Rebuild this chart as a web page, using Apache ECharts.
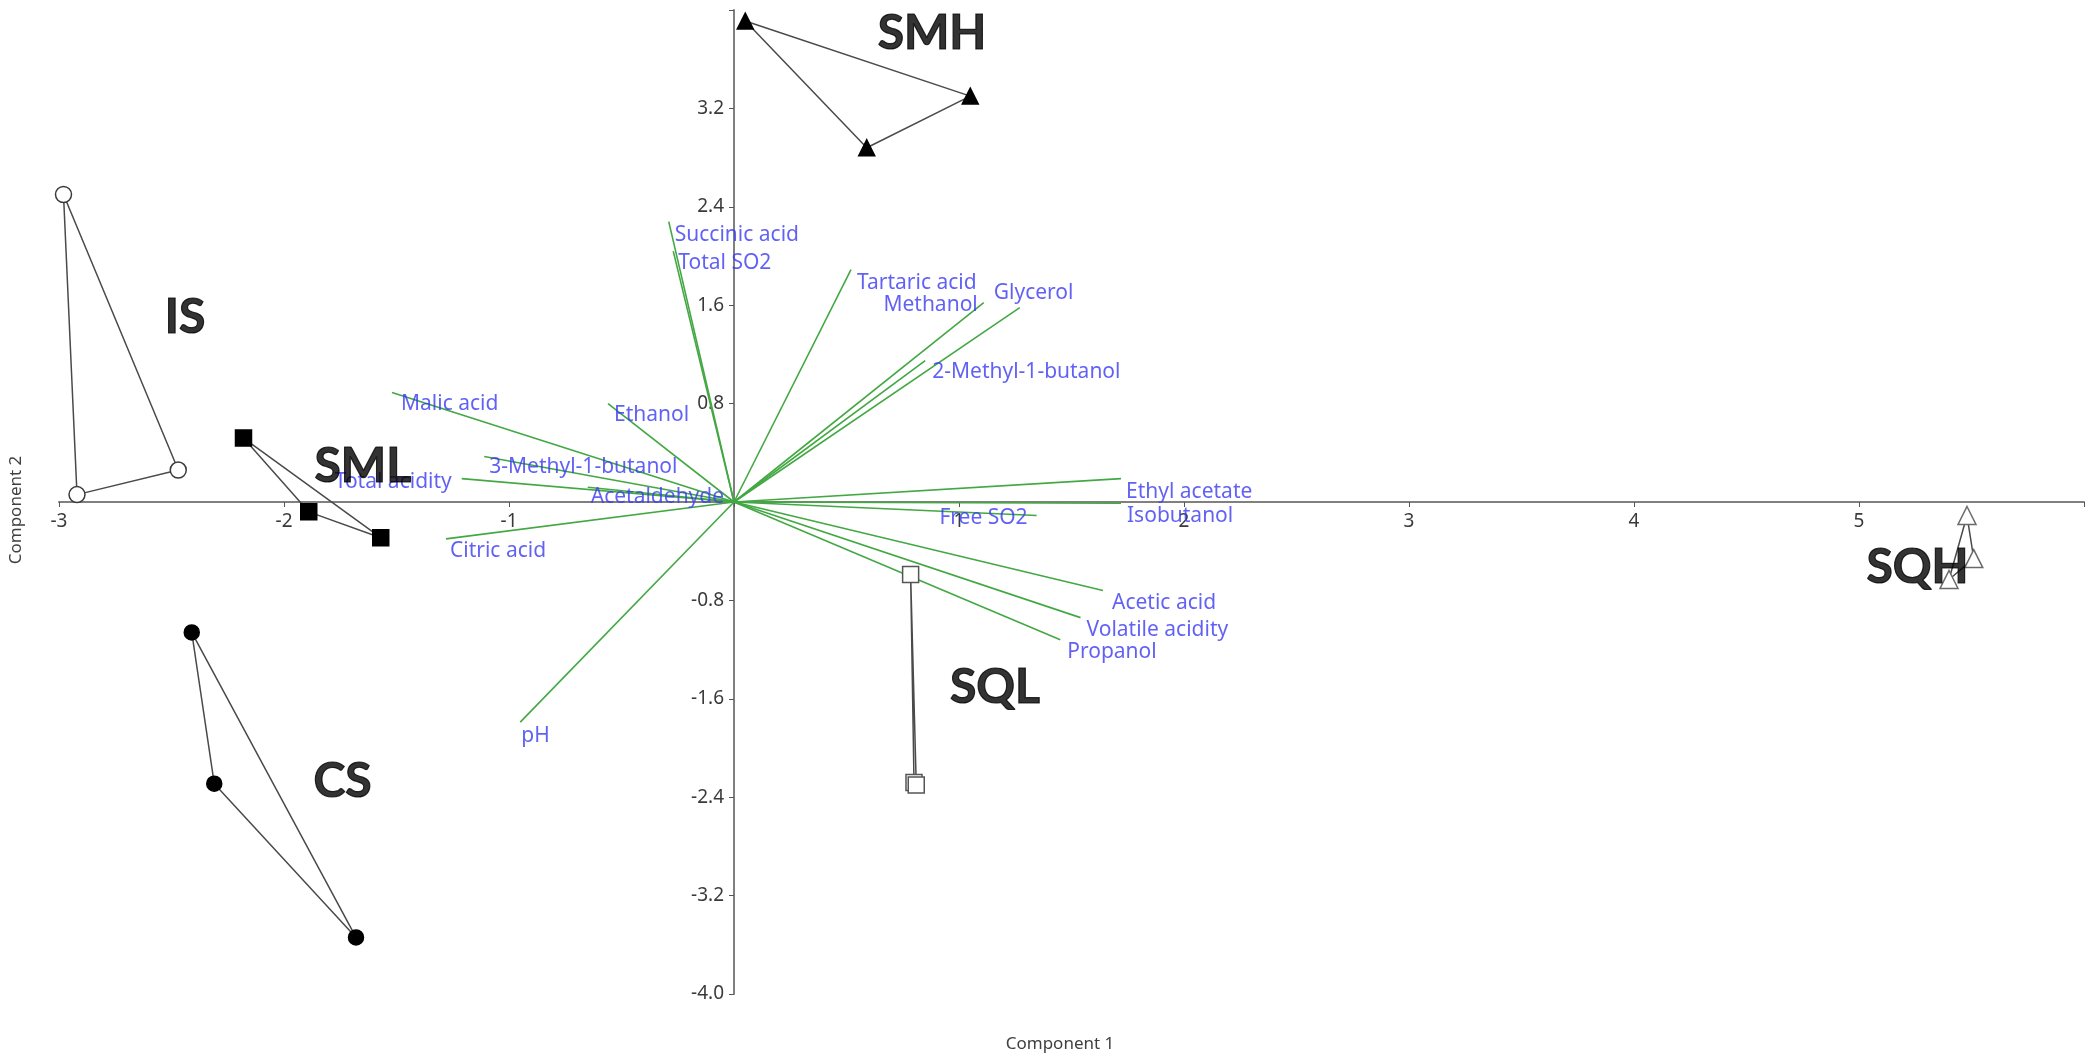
<!DOCTYPE html>
<html>
<head>
<meta charset="utf-8">
<script src="https://cdn.jsdelivr.net/npm/echarts/dist/echarts.min.js"></script>
<style>
html,body{margin:0;padding:0;background:#fff;}
#chart{width:2095px;height:1063px;}
</style>
</head>
<body>
<div id="chart"></div>
<script>
// ---- Data ----
const groupNames = ['IS', 'SML', 'CS', 'SMH', 'SQL', 'SQH'];
const isScores  = [[-2.98, 2.50], [-2.47, 0.26], [-2.92, 0.06]];
const smlScores = [[-2.18, 0.52], [-1.89, -0.08], [-1.57, -0.29]];
const csScores  = [[-2.41, -1.06], [-2.31, -2.29], [-1.68, -3.54]];
const smhScores = [[0.05, 3.91], [1.05, 3.30], [0.59, 2.88]];
const sqlScores = [[0.785, -0.59], [0.80, -2.28], [0.81, -2.30]];
const sqhScores = [[5.48, -0.11], [5.51, -0.46], [5.40, -0.63]];
const groupLabelX = [-2.44, -1.65, -1.74, 0.88, 1.16, 5.26];
const groupLabelY = [1.50, 0.29, -2.27, 3.81, -1.51, -0.53];

const variables = ['Succinic acid', 'Total SO2', 'Tartaric acid', 'Methanol', 'Glycerol',
  '2-Methyl-1-butanol', 'Malic acid', 'Ethanol', '3-Methyl-1-butanol', 'Total acidity',
  'Acetaldehyde', 'Citric acid', 'pH', 'Ethyl acetate', 'Isobutanol', 'Free SO2',
  'Acetic acid', 'Volatile acidity', 'Propanol'];
const loadX = [-0.29, -0.27, 0.52, 1.11, 1.27, 0.85, -1.52, -0.56, -1.11, -1.21,
  -0.65, -1.28, -0.95, 1.72, 1.72, 1.345, 1.64, 1.54, 1.45];
const loadY = [2.28, 2.04, 1.89, 1.62, 1.58, 1.15, 0.89, 0.80, 0.37, 0.19,
  0.12, -0.30, -1.79, 0.19, -0.01, -0.11, -0.72, -0.94, -1.12];

const xMin = -3, xMax = 6, xTickInterval = 1;
const yMin = -4, yMax = 4, yTickInterval = 0.8;

// ---- Label placement (pixel offsets from loading end point) ----
const labelPlacement = [
  [6, 13, 'left'], [5, 12, 'left'], [6, 13, 'left'], [-6, 2, 'right'], [-26, -15, 'left'],
  [7, 11, 'left'], [9, 11, 'left'], [6, 11, 'left'], [5, 11, 'left'], [-10, 3, 'right'],
  [3, 10, 'left'], [4, 12, 'left'], [1, 14, 'left'], [5, 13, 'left'], [6, 13, 'left'],
  [-9, 2, 'right'], [9, 12, 'left'], [6, 12, 'left'], [7, 12, 'left']
];

const groupScores = [isScores, smlScores, csScores, smhScores, sqlScores, sqhScores];
const groupSymbols = [
  {symbol: 'circle', size: 16, fill: '#ffffff', stroke: '#3a3a3a'},
  {symbol: 'rect', size: 16, fill: '#000000', stroke: '#000000'},
  {symbol: 'circle', size: 15, fill: '#000000', stroke: '#000000'},
  {symbol: 'triangle', size: 16, fill: '#000000', stroke: '#000000'},
  {symbol: 'rect', size: 16, fill: '#ffffff', stroke: '#555555'},
  {symbol: 'triangle', size: 18, fill: '#ffffff', stroke: '#6a6a6a'}
];

// ---- Layout ----
const W = 2095, H = 1063;
const gridL = 59, gridR = 11, gridT = 10, gridB = 69;
const plotW = W - gridL - gridR, plotH = H - gridT - gridB;
// pixel position of the zero lines, so the axes cross at the origin
const xZeroPx = gridL + (0 - xMin) / (xMax - xMin) * plotW;
const yZeroPx = gridT + (yMax - 0) / (yMax - yMin) * plotH;
const xAxisOffset = -((H - gridB) - yZeroPx);
const yAxisOffset = -(xZeroPx - gridL);

const chart = echarts.init(document.getElementById('chart'), null, {renderer: 'canvas'});

const tickFont = 'Noto Sans';
function fmtX(v) {
  const r = v / xTickInterval;
  if (Math.abs(v) < 1e-9 || Math.abs(r - Math.round(r)) > 1e-6 || v > xMax - 0.5) return '';
  return String(Math.round(v));
}
function fmtY(v) {
  const r = v / yTickInterval;
  if (Math.abs(v) < 1e-9 || Math.abs(r - Math.round(r)) > 1e-6 || v > yMax - 0.5) return '';
  return v.toFixed(1);
}

const series = [];

// Loading vectors
series.push({
  type: 'lines',
  coordinateSystem: 'cartesian2d',
  silent: true,
  z: 2,
  lineStyle: {color: '#43a843', width: 1.6, opacity: 1},
  data: variables.map((n, i) => ({coords: [[0, 0], [loadX[i], loadY[i]]]}))
});

// Loading labels
series.push({
  type: 'scatter',
  silent: true,
  z: 3,
  symbolSize: 1,
  itemStyle: {color: 'rgba(0,0,0,0)'},
  data: variables.map((n, i) => ({
    name: n,
    value: [loadX[i], loadY[i]],
    label: {
      show: true,
      position: 'inside',
      formatter: n,
      align: labelPlacement[i][2],
      verticalAlign: 'middle',
      offset: [labelPlacement[i][0], labelPlacement[i][1]],
      color: '#3a3af2',
      fontSize: 21,
      fontFamily: tickFont
    }
  }))
});

// Group polygons and markers
groupScores.forEach((pts, g) => {
  series.push({
    type: 'line',
    silent: true,
    z: 4,
    showSymbol: false,
    symbol: 'none',
    lineStyle: {color: '#4a4a4a', width: 1.5},
    data: pts.concat([pts[0]])
  });
  const s = groupSymbols[g];
  series.push({
    type: 'scatter',
    name: groupNames[g],
    silent: true,
    z: 5,
    symbol: s.symbol,
    symbolSize: s.size,
    itemStyle: {color: s.fill, borderColor: s.stroke, borderWidth: 1.5, opacity: 1},
    data: pts
  });
});

// Group labels
series.push({
  type: 'scatter',
  silent: true,
  z: 10,
  symbolSize: 1,
  itemStyle: {color: 'rgba(0,0,0,0)'},
  data: groupNames.map((n, i) => ({
    name: n,
    value: [groupLabelX[i], groupLabelY[i]],
    label: {
      show: true,
      position: 'inside',
      formatter: n,
      align: 'center',
      verticalAlign: 'middle',
      color: '#000000',
      textBorderColor: '#000000',
      textBorderWidth: 1.2,
      fontSize: 48,
      fontWeight: 'bold',
      fontFamily: 'Lato'
    }
  }))
});

chart.setOption({
  animation: false,
  backgroundColor: '#ffffff',
  grid: {left: gridL, right: gridR, top: gridT, bottom: gridB, containLabel: false, outerBoundsMode: 'none'},
  xAxis: {
    type: 'value',
    position: 'bottom',
    offset: xAxisOffset,
    min: xMin,
    max: xMax,
    interval: xTickInterval,
    axisLine: {show: true, onZero: false, lineStyle: {color: '#808080', width: 2}},
    axisTick: {show: true, length: 5, lineStyle: {color: '#555555', width: 1}},
    axisLabel: {show: true, formatter: fmtX, color: '#3a3a3a', fontSize: 19, fontFamily: tickFont, margin: 10, showMinLabel: true, showMaxLabel: true, hideOverlap: false},
    splitLine: {show: false}
  },
  yAxis: {
    type: 'value',
    position: 'left',
    offset: yAxisOffset,
    min: yMin,
    max: yMax,
    interval: yTickInterval,
    axisLine: {show: true, onZero: false, lineStyle: {color: '#808080', width: 2}},
    axisTick: {show: true, length: 5, lineStyle: {color: '#555555', width: 1}},
    axisLabel: {show: true, formatter: fmtY, color: '#3a3a3a', fontSize: 19, fontFamily: tickFont, margin: 10, showMinLabel: true, showMaxLabel: true, hideOverlap: false},
    splitLine: {show: false}
  },
  graphic: [
    {type: 'text', x: 1060, y: 1044, silent: true,
     style: {text: 'Component 1', fontSize: 17, fontFamily: tickFont, fill: '#404040', textAlign: 'center', textVerticalAlign: 'middle', align: 'center', verticalAlign: 'middle'}},
    {type: 'text', x: 16, y: 510, rotation: Math.PI / 2, silent: true,
     style: {text: 'Component 2', fontSize: 17, fontFamily: tickFont, fill: '#404040', textAlign: 'center', textVerticalAlign: 'middle', align: 'center', verticalAlign: 'middle'}}
  ],
  series: series
});
</script>
</body>
</html>
